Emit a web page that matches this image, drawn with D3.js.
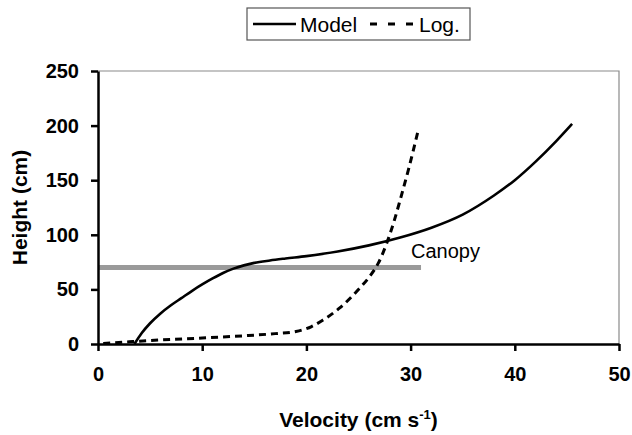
<!DOCTYPE html>
<html>
<head>
<meta charset="utf-8">
<script src="https://cdn.jsdelivr.net/npm/d3@7"></script>
<style>
  body { margin: 0; background: #fff; }
  text { font-family: "Liberation Sans", Arial, sans-serif; }
</style>
</head>
<body>
<svg id="chart" width="632" height="435"></svg>
<script>
// velocity (cm/s) vs height (cm)
const modelVel = [3.5, 4.2, 5, 6, 7, 8, 9, 10, 11, 12, 13, 14, 15, 16.5, 18, 20, 23, 26, 29, 32, 35, 38, 40, 42, 44, 45.5];
const modelHeight = [0, 10, 19, 28, 35.5, 42, 48.5, 54.5, 60, 65, 69, 72, 74.3, 76.5, 78.3, 80.5, 84.7, 90.3, 97.5, 106.5, 118.5, 136, 150, 167, 186, 201.5];

const logVel = [0.5, 3, 6, 10, 14, 17, 19, 20.5, 21.6, 23.2, 25.1, 26, 26.9, 27.7, 28.4, 29, 29.8, 30.7];
const logHeight = [0.5, 2, 3.7, 5.5, 7.5, 9.5, 11.5, 16, 22, 33, 51, 61, 74, 92, 112, 132, 160, 194.5];

const canopyHeight = 70;
const canopyEnd = 31;

const xTicks = [0, 10, 20, 30, 40, 50];
const yTicks = [0, 50, 100, 150, 200, 250];

const svg = d3.select("#chart");

const x = d3.scaleLinear().domain([0, 50]).range([98, 619]);
const y = d3.scaleLinear().domain([0, 250]).range([344, 71]);

// plot frame (top and right, thin grey)
svg.append("path")
    .attr("d", `M${x(0)},${y(250)}H${x(50)}V${y(0)}`)
    .attr("fill", "none")
    .attr("stroke", "#8a8a8a")
    .attr("stroke-width", 1.2);

// canopy line
svg.append("line")
    .attr("x1", x(0)).attr("x2", x(canopyEnd))
    .attr("y1", y(canopyHeight)).attr("y2", y(canopyHeight))
    .attr("stroke", "#9a9a9a")
    .attr("stroke-width", 5);

svg.append("text")
    .attr("x", 411)
    .attr("y", 258)
    .style("font-size", "20px")
    .text("Canopy");

const line = d3.line()
    .x(d => x(d[0]))
    .y(d => y(d[1]))
    .curve(d3.curveMonotoneX);

svg.append("path")
    .datum(d3.zip(modelVel, modelHeight))
    .attr("d", line)
    .attr("fill", "none")
    .attr("stroke", "#000")
    .attr("stroke-width", 2.6);

svg.append("path")
    .datum(d3.zip(logVel, logHeight))
    .attr("d", line)
    .attr("fill", "none")
    .attr("stroke", "#000")
    .attr("stroke-width", 3)
    .attr("stroke-dasharray", "7,5");

// axes
const xAxis = svg.append("g")
    .attr("transform", `translate(0,${y(0)})`)
    .call(d3.axisBottom(x).tickValues(xTicks).tickSize(7).tickPadding(16).tickSizeOuter(0));

const yAxis = svg.append("g")
    .attr("transform", `translate(${x(0)},0)`)
    .call(d3.axisLeft(y).tickValues(yTicks).tickSize(7).tickPadding(12).tickSizeOuter(0));

[xAxis, yAxis].forEach(g => {
    g.select(".domain").attr("stroke", "#000").attr("stroke-width", 2.5);
    g.selectAll(".tick line").attr("stroke", "#000").attr("stroke-width", 2.5);
    g.selectAll(".tick text")
        .attr("fill", "#000")
        .style("font-size", "20px")
        .style("font-weight", "bold")
        .style("font-family", "'Liberation Sans', Arial, sans-serif");
});

// axis titles
const xTitle = svg.append("text")
    .attr("x", (x(0) + x(50)) / 2)
    .attr("y", 427)
    .attr("text-anchor", "middle")
    .style("font-size", "21px")
    .style("font-weight", "bold");
xTitle.append("tspan").text("Velocity (cm s");
xTitle.append("tspan").attr("dy", -8).style("font-size", "13px").text("-1");
xTitle.append("tspan").attr("dy", 8).text(")");

svg.append("text")
    .attr("transform", `translate(27,${(y(0) + y(250)) / 2}) rotate(-90)`)
    .attr("text-anchor", "middle")
    .style("font-size", "21px")
    .style("font-weight", "bold")
    .text("Height (cm)");

// legend
const legend = svg.append("g");
legend.append("rect")
    .attr("x", 247).attr("y", 8)
    .attr("width", 223).attr("height", 32)
    .attr("fill", "#fff")
    .attr("stroke", "#555")
    .attr("stroke-width", 1.2);

legend.append("line")
    .attr("x1", 253).attr("x2", 296)
    .attr("y1", 24).attr("y2", 24)
    .attr("stroke", "#000").attr("stroke-width", 2.6);
legend.append("text")
    .attr("x", 300).attr("y", 32)
    .style("font-size", "21px")
    .text("Model");

legend.append("line")
    .attr("x1", 370).attr("x2", 414)
    .attr("y1", 24).attr("y2", 24)
    .attr("stroke", "#000").attr("stroke-width", 3)
    .attr("stroke-dasharray", "7,11");
legend.append("text")
    .attr("x", 419).attr("y", 32)
    .style("font-size", "21px")
    .text("Log.");
</script>
</body>
</html>
